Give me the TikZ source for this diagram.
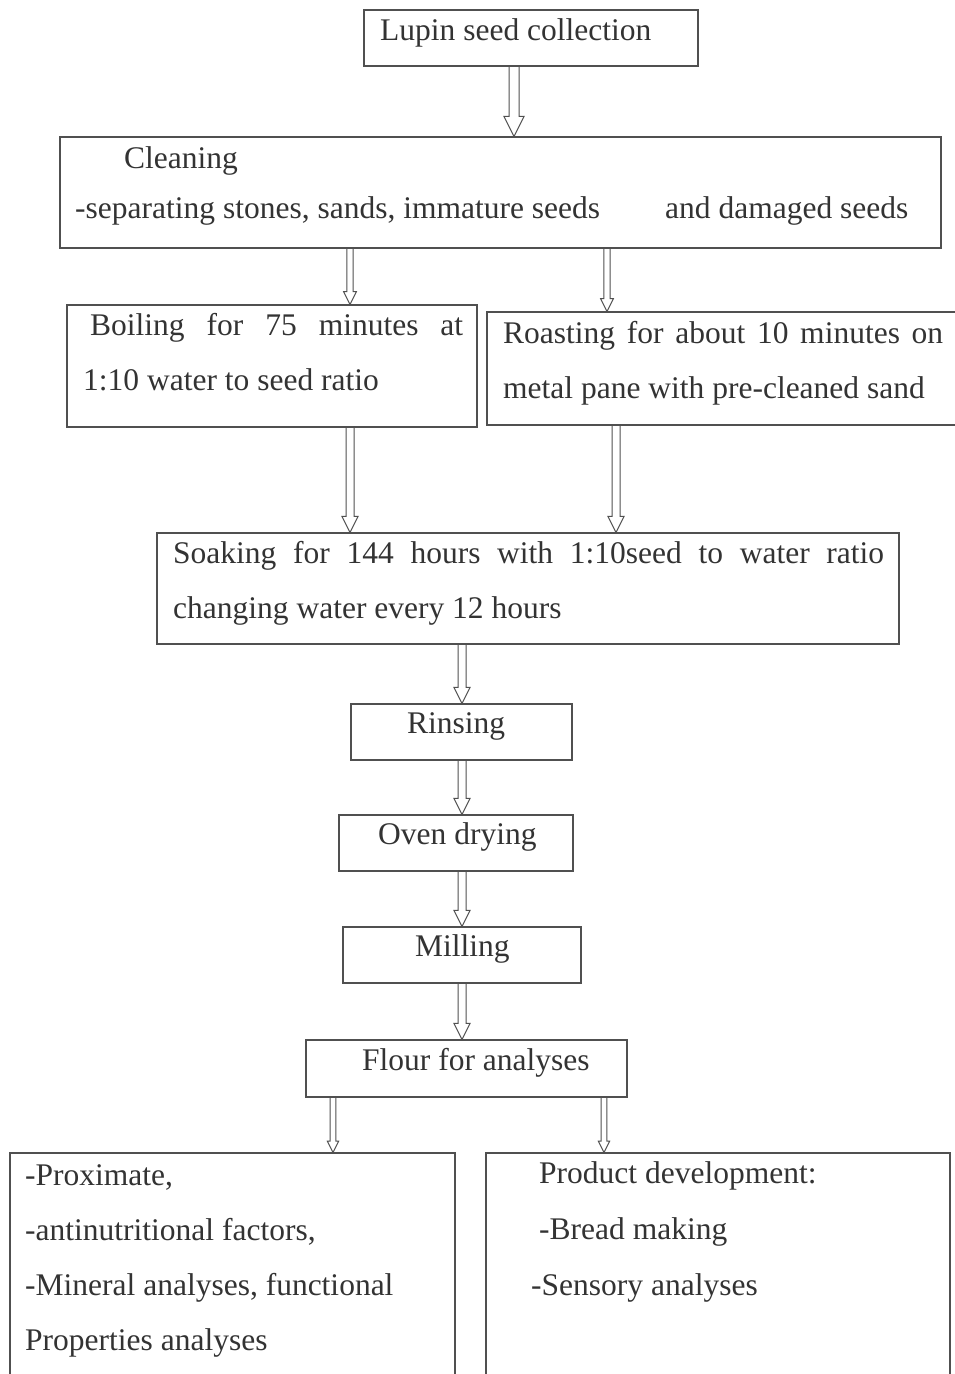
\documentclass[tikz,border=0pt]{standalone}
\usepackage{fontspec}
\setmainfont{Liberation Serif}
\usetikzlibrary{calc}

\definecolor{inkgray}{HTML}{333333}
\definecolor{linegray}{HTML}{505050}

% hollow block arrow: [width factor]{x}{from node}{to node}
\newcommand{\flowarrow}[4][1]{%
  \draw[flow] let \p1=(#3.south), \p2=(#4.north) in
    (#2pt-#1*4pt,\y1) -- (#2pt-#1*4pt,\y2+#1*16pt) -- (#2pt-#1*8pt,\y2+#1*16pt) -- (#2pt,\y2)
    -- (#2pt+#1*8pt,\y2+#1*16pt) -- (#2pt+#1*4pt,\y2+#1*16pt) -- (#2pt+#1*4pt,\y1);}

\begin{document}
\begin{tikzpicture}[
    x=1pt, y=-1pt,
    box/.style={rectangle, draw=linegray, line width=1.2pt, inner sep=0pt},
    txt/.style={anchor=base west, inner sep=0pt, text=inkgray, font=\fontsize{31.5}{38}\selectfont},
    flow/.style={draw=linegray, line width=1pt, line join=miter}
]
\useasboundingbox (0,0) rectangle (954,1374);

% Boxes
\node (lupin) [box, minimum width=334pt, minimum height=56pt] at (531,38) {};
\node (clean) [box, minimum width=881pt, minimum height=111pt] at (500.5,192.5) {};
\node (boil)  [box, minimum width=410pt, minimum height=122pt] at (272,366) {};
\node (roast) [box, minimum width=471pt, minimum height=113pt] at (722.5,368.5) {};
\node (soak)  [box, minimum width=742pt, minimum height=111pt] at (528,588.5) {};
\node (rinse) [box, minimum width=221pt, minimum height=56pt] at (461.5,732) {};
\node (oven)  [box, minimum width=234pt, minimum height=56pt] at (456,843) {};
\node (mill)  [box, minimum width=238pt, minimum height=56pt] at (462,955) {};
\node (flour) [box, minimum width=321pt, minimum height=57pt] at (466.5,1068.5) {};
\node (labs)  [box, minimum width=445pt, minimum height=227pt] at (232.5,1266.5) {};
\node (prod)  [box, minimum width=464pt, minimum height=227pt] at (718,1266.5) {};

% Texts
\node [txt] at (380,40) {Lupin seed collection};
\node [txt] at (124,168) {Cleaning};
\node [txt] at (75,218) {-separating stones, sands, immature seeds};
\node [txt] at (665,218) {and damaged seeds};
\node [txt] at (90,335) {\makebox[373pt][s]{Boiling for 75 minutes at}};
\node [txt] at (83,390) {1:10 water to seed ratio};
\node [txt] at (503,343) {\makebox[440pt][s]{Roasting for about 10 minutes on}};
\node [txt] at (503,398) {metal pane with pre-cleaned sand};
\node [txt] at (173,563) {\makebox[711pt][s]{Soaking for 144 hours with 1:10seed to water ratio}};
\node [txt] at (173,618) {changing water every 12 hours};
\node [txt] at (407,733) {Rinsing};
\node [txt] at (378,844) {Oven drying};
\node [txt] at (415,956) {Milling};
\node [txt] at (362,1070) {Flour for analyses};
\node [txt] at (25,1185) {-Proximate,};
\node [txt] at (25,1240) {-antinutritional factors,};
\node [txt] at (25,1295) {-Mineral analyses, functional};
\node [txt] at (25,1350) {Properties analyses};
\node [txt] at (539,1183) {Product development:};
\node [txt] at (539,1239) {-Bread making};
\node [txt] at (531,1295) {-Sensory analyses};

% Arrows
\flowarrow[1.25]{514}{lupin}{clean}
\flowarrow[0.8]{350}{clean}{boil}
\flowarrow[0.8]{607}{clean}{roast}
\flowarrow{350}{boil}{soak}
\flowarrow{616}{roast}{soak}
\flowarrow{462}{soak}{rinse}
\flowarrow{462}{rinse}{oven}
\flowarrow{462}{oven}{mill}
\flowarrow{462}{mill}{flour}
\flowarrow[0.7]{333}{flour}{labs}
\flowarrow[0.7]{604}{flour}{prod}

\end{tikzpicture}
\end{document}
